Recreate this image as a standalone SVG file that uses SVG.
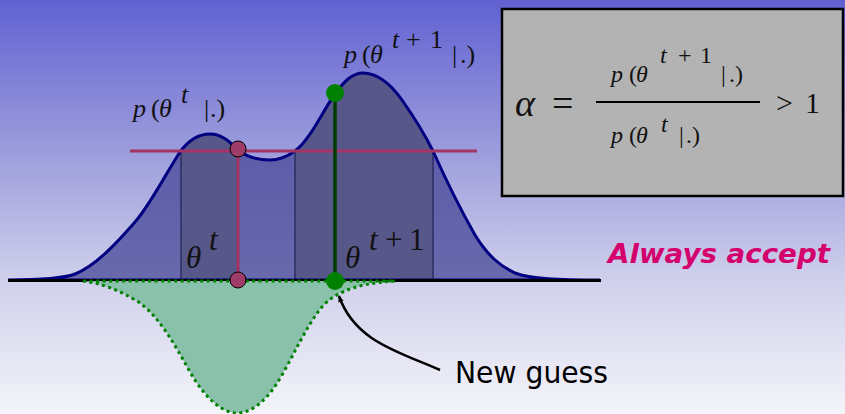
<svg xmlns="http://www.w3.org/2000/svg" width="845" height="414" viewBox="0 0 845 414">
<defs>
<linearGradient id="bg" x1="0" y1="0" x2="0" y2="1">
<stop offset="0" stop-color="#6161d2"/>
<stop offset="0.35" stop-color="#9a9adc"/>
<stop offset="0.68" stop-color="#d0d0ec"/>
<stop offset="1" stop-color="#f4f4fa"/>
</linearGradient>
<clipPath id="curveClip">
<path id="curvePath" d="M8,280 C40,280 62,279 75,274 C95,266 115,245 135,222 C150,205 165,175 180,152 C188,141 198,134 210,134 C222,134 230,142 238,150 C247,157 260,160 270,160 C280,160 288,156 295,151 C310,140 322,112 335,94 C345,80 353,73 363,73 C378,73 392,86 402,100 C414,117 424,133 433,151 C445,178 458,205 475,235 C488,256 500,266 515,273 C530,279 560,280 600,280 Z"/>
</clipPath>
<marker id="arrow" viewBox="0 0 10 10" refX="9" refY="5" markerWidth="7" markerHeight="7" orient="auto" markerUnits="userSpaceOnUse">
<path d="M0,1 L10,5 L0,9 Z" fill="#000"/>
</marker>
<style>
.math{font-family:"Liberation Serif","Times New Roman",serif;fill:#111}
.math tspan{fill:#111}
.it{font-style:italic}
.hand{font-family:"DejaVu Sans",sans-serif}
.vline{stroke:#2c2c62;stroke-width:1.5}
</style>
</defs>
<rect id="background" x="0" y="0" width="845" height="414" fill="url(#bg)"/>

<g id="density">
<use href="#curvePath" fill="#494999" fill-opacity="0.77"/>
<g clip-path="url(#curveClip)">
<rect x="181" y="60" width="57" height="222" fill="#57578a"/>
<rect x="295" y="60" width="138" height="222" fill="#57578a"/>
</g>
<line class="vline" x1="181" y1="152" x2="181" y2="280"/>
<line class="vline" x1="295" y1="151" x2="295" y2="280"/>
<line class="vline" x1="433" y1="151" x2="433" y2="280"/>
<use href="#curvePath" fill="none" stroke="#000080" stroke-width="3"/>
</g>

<g id="axis">
<line x1="8" y1="280.5" x2="601" y2="280.5" stroke="#000" stroke-width="3"/>
</g>

<g id="proposal">
<path d="M83,281 C100,283 120,290 140,303 C160,318 175,345 190,372 C205,398 222,413 237,413 C252,413 268,400 282,375 C295,352 305,330 318,312 C330,295 350,284 395,281 Z" fill="#8ac1aa" stroke="#008000" stroke-width="3" stroke-dasharray="3,3.5"/>
</g>

<g id="levels">
<line x1="130" y1="151" x2="477" y2="151" stroke="#a33566" stroke-width="3"/>
<line x1="238" y1="151" x2="238" y2="280" stroke="#a33566" stroke-width="3"/>
<line x1="335" y1="93" x2="335" y2="280" stroke="#003c00" stroke-width="3.5"/>
</g>

<g id="current-top"><circle cx="238" cy="149" r="8" fill="#a03c68" stroke="#000" stroke-width="1"/></g>
<g id="current-bottom"><circle cx="238" cy="280" r="8" fill="#a03c68" stroke="#000" stroke-width="1"/></g>
<g id="proposed-top"><circle cx="335" cy="93" r="9" fill="#008000"/></g>
<g id="proposed-bottom"><circle cx="335" cy="281" r="9" fill="#008000"/></g>

<g id="label-pt">
<text class="math" font-size="26" y="117"><tspan class="it" x="133">p</tspan><tspan x="151">(</tspan><tspan class="it" x="159">θ</tspan><tspan class="it" x="181" y="103">t</tspan><tspan x="204" y="117">|</tspan><tspan x="210">.)</tspan></text>
</g>
<g id="label-pt1">
<text class="math" font-size="26" y="63"><tspan class="it" x="344">p</tspan><tspan x="362">(</tspan><tspan class="it" x="370">θ</tspan><tspan class="it" x="392" y="48">t</tspan><tspan x="406" y="48">+</tspan><tspan x="430" y="48">1</tspan><tspan x="452" y="63">|</tspan><tspan x="460">.)</tspan></text>
</g>
<g id="label-theta-t">
<text class="math" font-size="31" y="268"><tspan class="it" x="186">θ</tspan><tspan class="it" x="209" y="250">t</tspan></text>
</g>
<g id="label-theta-t1">
<text class="math" font-size="31" y="268"><tspan class="it" x="345">θ</tspan><tspan class="it" x="369" y="250">t</tspan><tspan x="385" y="250">+</tspan><tspan x="409" y="250">1</tspan></text>
</g>

<g id="formula-box">
<rect x="502" y="9" width="341" height="187" fill="#b3b3b3" stroke="#000" stroke-width="2.5"/>
<text class="math it" font-size="38" x="515" y="116">α</text>
<text class="math" font-size="38" x="552" y="116">=</text>
<line x1="596" y1="102" x2="760" y2="102" stroke="#000" stroke-width="2.2"/>
<text class="math" font-size="24" y="82"><tspan class="it" x="611">p</tspan><tspan x="629">(</tspan><tspan class="it" x="636">θ</tspan><tspan class="it" x="660" y="63">t</tspan><tspan x="678" y="63">+</tspan><tspan x="700" y="63">1</tspan><tspan x="721" y="82">|</tspan><tspan x="729">.)</tspan></text>
<text class="math" font-size="24" y="143"><tspan class="it" x="611">p</tspan><tspan x="629">(</tspan><tspan class="it" x="636">θ</tspan><tspan class="it" x="661" y="132">t</tspan><tspan x="679" y="143">|</tspan><tspan x="686">.)</tspan></text>
<text class="math" font-size="30" y="113"><tspan x="776">&gt;</tspan><tspan x="805">1</tspan></text>
</g>

<g id="always-accept">
<text class="hand" font-size="26" font-weight="bold" font-style="italic" fill="#d4006c" x="608" y="263" textLength="222" lengthAdjust="spacingAndGlyphs">Always accept</text>
</g>

<g id="new-guess">
<text class="hand" font-size="31" fill="#000" x="455" y="383" textLength="153" lengthAdjust="spacingAndGlyphs">New guess</text>
</g>

<g id="connectors">
<path d="M440,370 C400,352 355,342 339,296" fill="none" stroke="#000" stroke-width="2.5" marker-end="url(#arrow)"/>
</g>
</svg>
